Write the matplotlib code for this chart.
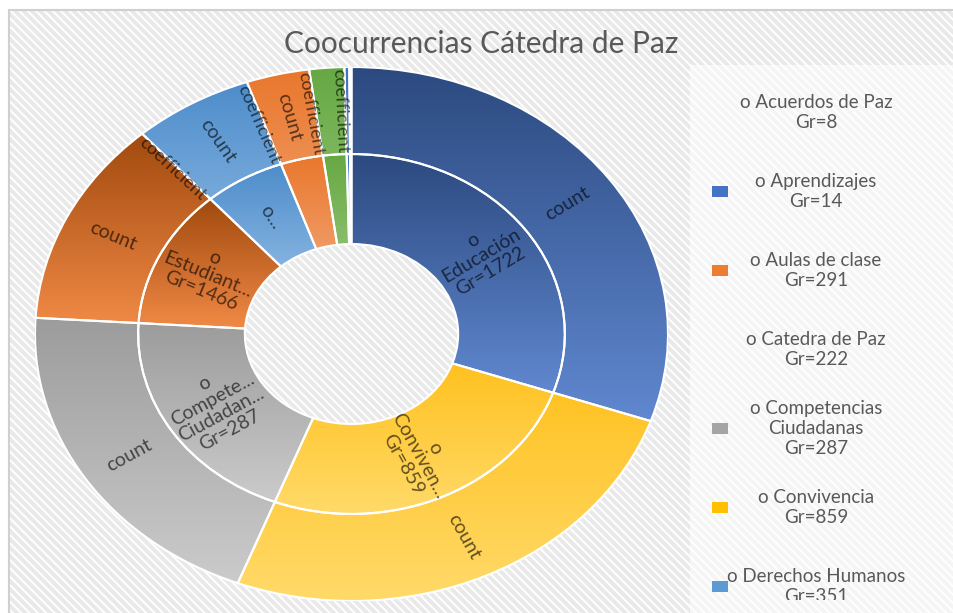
import numpy as np
import matplotlib
matplotlib.use("Agg")
import matplotlib.pyplot as plt
from matplotlib.patches import Wedge, Rectangle
from matplotlib.colors import LinearSegmentedColormap
from matplotlib.transforms import Bbox

plt.rcParams['font.family'] = ['Lato', 'DejaVu Sans']
plt.rcParams['hatch.linewidth'] = 1.4
plt.rcParams['hatch.color'] = 'white'

# sunburst data, clockwise from 12 o'clock
categories = ["Educación", "Convivencia", "Competencias Ciudadanas", "Estudiantes",
              "Derechos Humanos", "Aulas de clase", "Otro", "Aprendizajes", "Acuerdos de Paz"]
count_vals = [108.8, 91.8, 72.2, 44.9, 21.9, 11.4, 6.2, 0.9, 0.4]
coef_vals = [0.2, 0.2, 0.2, 0.2, 0.2, 0.2, 0.2, 0.0, 0.0]
inner_labels = ["o\nEducación\nGr=1722", "o\nConviven...\nGr=859",
                "o\nCompete...\nCiudadan...\nGr=287", "o\nEstudiant...\nGr=1466",
                "o...", "", "", "", ""]
grad_top = ['#2C4A80', '#FFBC10', '#9C9C9C', '#A14A0E', '#4D8DCB',
            '#E9772C', '#66A843', '#4472C4', '#FFFFFF']
grad_bot = ['#6088D0', '#FFDA6A', '#CBCBCB', '#F48C48', '#A9CBEE',
            '#F6B995', '#ABD391', '#7A9BDA', '#FFFFFF']

# legend (cut off at the bottom in the original)
legend_names = ["Acuerdos de Paz", "Aprendizajes", "Aulas de clase", "Catedra de Paz",
                "Competencias\nCiudadanas", "Convivencia", "Derechos Humanos"]
legend_gr = [8, 14, 291, 222, 287, 859, 351]
legend_colors = [None, '#4472C4', '#ED7D31', None, '#A5A5A5', '#FFC000', '#5B9BD5']

W, H = 954, 613
fig = plt.figure(figsize=(W / 100, H / 100), dpi=100)
fig.patch.set_facecolor('white')

# striped chart background + frame
bg = Rectangle((9 / W, -0.05), 1.1, (H - 10) / H + 0.05, transform=fig.transFigure,
               facecolor='#E9E9E9', edgecolor='white', hatch='\\' * 4, lw=0.5, zorder=-10)
fig.add_artist(bg)
frame = Rectangle((9 / W, -0.05), 1.1, (H - 10) / H + 0.05, transform=fig.transFigure,
                  facecolor='none', edgecolor='#D0D0D0', lw=1.5, zorder=-9)
fig.add_artist(frame)
leg_bg = Rectangle((690 / W, 0), 1.0, (H - 65) / H, transform=fig.transFigure,
                   facecolor='white', alpha=0.55, lw=0, zorder=-8)
fig.add_artist(leg_bg)

# axes covering the (horizontally stretched) ring
ax = fig.add_axes([35 / W, (H - 601) / H, 633 / W, 534 / H])
ax.patch.set_visible(False)
ax.axis('off')

R_out, R_mid, R_in = 1.0, 0.674, 0.337


def grad_wedge(r, width, cw0, cw1, c_top, c_bot):
    w = Wedge((0, 0), r, 90 - cw1, 90 - cw0, width=width,
              facecolor='none', edgecolor='white', lw=1.5, zorder=3)
    ax.add_patch(w)
    v = w.get_path().vertices
    cmap = LinearSegmentedColormap.from_list('g', [c_bot, c_top])
    im = ax.imshow(np.linspace(0, 1, 256).reshape(-1, 1), cmap=cmap,
                   extent=[v[:, 0].min(), v[:, 0].max(), v[:, 1].min(), v[:, 1].max()],
                   origin='lower', aspect='auto', interpolation='bilinear', zorder=2)
    im.set_clip_path(w)


ax.set_xlim(-1, 1)
ax.set_ylim(-1, 1)


def radial_rot(cw):
    th = np.radians(90 - cw)
    p0 = ax.transData.transform((0, 0))
    p1 = ax.transData.transform((np.cos(th), np.sin(th)))
    ang = np.degrees(np.arctan2(p1[1] - p0[1], p1[0] - p0[0]))
    if ang > 90:
        ang -= 180
    if ang < -90:
        ang += 180
    return ang


def put_label(txt, cw, r, size):
    th = np.radians(90 - cw)
    ax.text(r * np.cos(th), r * np.sin(th), txt, ha='center', va='center',
            rotation=radial_rot(cw), rotation_mode='anchor', multialignment='center',
            fontsize=size, color='black', alpha=0.62, linespacing=1.05, zorder=5)


total = sum(count_vals) + sum(coef_vals)
scale = 360.0 / total
start = 0.0
for i, name in enumerate(categories):
    c = count_vals[i] * scale
    k = coef_vals[i] * scale
    # inner ring: category
    grad_wedge(R_mid, R_mid - R_in, start, start + c + k, grad_top[i], grad_bot[i])
    # outer ring: count + coefficient
    grad_wedge(R_out, R_out - R_mid, start, start + c + k, grad_top[i], grad_bot[i])
    if inner_labels[i]:
        put_label(inner_labels[i], start + (c + k) / 2, (R_mid + R_in) / 2, 14)
    r_o = (R_out + R_mid) / 2
    if c > 8:
        put_label("count", start + c / 2, r_o, 14)
    if k > 0 and c + k < 50:
        put_label("coefficient", start + c + k / 2 - 1.0, r_o, 13)
    start += c + k

ax.set_xlim(-1, 1)
ax.set_ylim(-1, 1)

fig.text(481 / W, 1 - 44 / H, "Coocurrencias Cátedra de Paz", ha='center', va='center',
         fontsize=21.5, color='#595959')

clip = Bbox([[0, H - 600], [W, H]])
for i, name in enumerate(legend_names):
    yc = 112.5 + 79 * i
    t = fig.text(816 / W, 1 - yc / H, "o " + name + "\nGr=" + str(legend_gr[i]),
                 ha='center', va='center', multialignment='center', fontsize=13.5,
                 color='#595959', linespacing=1.2)
    t.set_clip_box(clip)
    t.set_clip_on(True)
    if legend_colors[i]:
        fig.add_artist(Rectangle((712 / W, 1 - (yc + 5) / H), 16 / W, 11 / H,
                                 transform=fig.transFigure, facecolor=legend_colors[i],
                                 lw=0, zorder=4))

fig.savefig("out.png", dpi=100)
